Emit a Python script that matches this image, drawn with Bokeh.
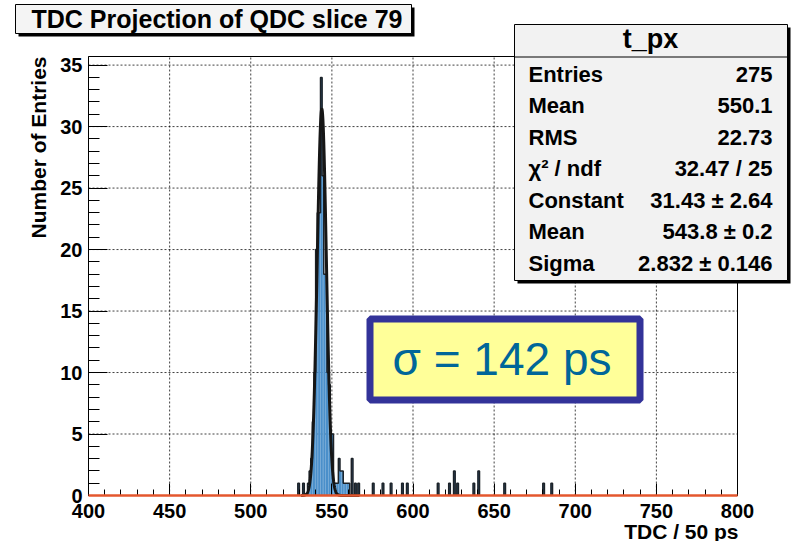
import numpy as np
from bokeh.plotting import figure
from bokeh.models import Label, BoxAnnotation, SingleIntervalTicker, Range1d
from bokeh.embed import file_html
from bokeh.resources import INLINE

# ---- data -----------------------------------------------------------------
# TDC histogram, one channel per bin: lower channel edge and entries
bin_low = [529, 532, 535, 536, 537, 538, 539, 540, 541, 542, 543, 544, 545, 546,
           547, 548, 549, 550, 551, 552, 553, 554, 555, 556, 557, 558, 559, 560,
           562, 564, 566, 575, 581, 586, 593, 596, 615, 622, 625, 627, 637, 640,
           656, 680, 685]
counts = [1, 1, 1, 2, 3, 6, 10, 20, 23, 23, 34, 26, 18, 18,
          10, 9, 5, 5, 1, 1, 1, 3, 2, 2, 1, 1, 1, 1,
          3, 1, 1, 1, 1, 1, 1, 1, 1, 1, 2, 1, 1, 2,
          1, 1, 1]

# Gaussian fit result
fit_const, fit_const_err = 31.43, 2.64
fit_mean, fit_mean_err = 543.8, 0.2
fit_sigma, fit_sigma_err = 2.832, 0.146
fit_lo, fit_hi = 531.0, 567.0
tdc_ps_per_channel = 50

stat_names = ["Entries", "Mean", "RMS", "\u03c7\u00b2 / ndf", "Constant", "Mean", "Sigma"]
stat_values = ["275", "550.1", "22.73", "32.47 / 25",
               f"{fit_const:.2f} \u00b1 {fit_const_err:.2f}",
               f"{fit_mean:.1f} \u00b1 {fit_mean_err:.1f}",
               f"{fit_sigma:.3f} \u00b1 {fit_sigma_err:.3f}"]

x_ticks = list(range(400, 801, 50))
y_ticks = list(range(0, 36, 5))
y_max = 35.7

# ---- layout (pixels) ------------------------------------------------------
W, H = 792, 541
FL, FR, FT, FB = 88, 737, 56, 495          # histogram frame on the canvas
FONT = "Liberation Sans"
BLUE = "#4a8fca"

x0, x1 = x_ticks[0], x_ticks[-1]
kx = (FR - FL) / (x1 - x0)
ky = (FB - FT) / y_max

# the plotting area spans the whole canvas; axes sit on the histogram frame
p = figure(width=W, height=H, output_backend="svg", toolbar_location=None,
           x_range=Range1d(x0 - FL / kx, x1 + (W - FR) / kx),
           y_range=Range1d(-(H - FB) / ky, y_max + FT / ky),
           min_border=0)
p.title.visible = False
p.background_fill_color = "white"
p.border_fill_color = "white"
p.outline_line_color = None
p.xgrid.visible = False
p.ygrid.visible = False

p.xaxis.fixed_location = 0
p.xaxis.bounds = (x0, x1)
p.yaxis.fixed_location = x0
p.yaxis.bounds = (0, y_max)

for ax, step in ((p.xaxis[0], 50), (p.yaxis[0], 5)):
    ax.ticker = SingleIntervalTicker(interval=step, num_minor_ticks=5)
    ax.axis_line_color = "black"
    ax.major_tick_out = 0
    ax.minor_tick_out = 0
    ax.major_tick_line_color = "black"
    ax.minor_tick_line_color = "black"
    ax.major_label_text_font = FONT
    ax.major_label_text_font_style = "bold"
    ax.major_label_text_font_size = "20px"
    ax.major_label_text_color = "black"

p.xaxis.major_tick_in = 12
p.xaxis.minor_tick_in = 6
p.xaxis.major_label_standoff = 8
p.yaxis.major_tick_in = 19
p.yaxis.minor_tick_in = 11
p.yaxis.major_label_standoff = 6

# dotted grid inside the frame
gx = x_ticks[1:-1]
p.segment(x0=gx, x1=gx, y0=[0] * len(gx), y1=[y_max] * len(gx),
          line_color="black", line_dash="2 2", line_alpha=0.75, line_width=1)
gy = y_ticks[1:]
p.segment(x0=[x0] * len(gy), x1=[x1] * len(gy), y0=gy, y1=gy,
          line_color="black", line_dash="2 2", line_alpha=0.75, line_width=1)

# histogram bars
low = np.array(bin_low, dtype=float)
cnt = np.array(counts, dtype=float)
p.quad(left=low, right=low + 1, bottom=0, top=cnt,
       fill_color=BLUE, line_color=None)

# outline of each run of adjacent filled bins
xs_runs, ys_runs = [], []
i = 0
while i < len(low):
    j = i
    while j + 1 < len(low) and low[j + 1] == low[j] + 1:
        j += 1
    xs = [low[i]]
    ys = [0.0]
    for k in range(i, j + 1):
        xs += [low[k], low[k] + 1]
        ys += [cnt[k], cnt[k]]
    xs.append(low[j] + 1)
    ys.append(0.0)
    xs_runs.append(xs)
    ys_runs.append(ys)
    i = j + 1
p.multi_line(xs_runs, ys_runs, line_color="#1c2228", line_width=1.5)

# gaussian fit curve
xf = np.linspace(fit_lo, fit_hi, 600)
yf = fit_const * np.exp(-0.5 * ((xf - fit_mean) / fit_sigma) ** 2)
p.line(xf, yf, line_color="#161616", line_width=3)

# frame border
p.add_layout(BoxAnnotation(left=x0, right=x1, bottom=0, top=y_max,
                           fill_alpha=0, line_color="black", line_width=1, line_alpha=1))

# baseline function, drawn over the frame edge
base = p.line([x0, x1], [0, 0], line_color="#e4572e", line_width=2.5)
base.level = "overlay"

# ---- annotations (canvas pixels from the top-left corner) ------------------


def sx(px):
    return px


def sy(py):
    return H - py


def box(l, t, r, b, fill, line=None, lw=1):
    return BoxAnnotation(left=sx(l), right=sx(r), top=sy(t), bottom=sy(b),
                         left_units="screen", right_units="screen",
                         top_units="screen", bottom_units="screen",
                         fill_color=fill, fill_alpha=1.0,
                         line_color=line, line_width=lw, line_alpha=1.0 if line else 0.0)


def text(px, py, s, size, align="left", bold=True, color="black", angle=0.0):
    return Label(x=sx(px), y=sy(py), x_units="screen", y_units="screen", text=s,
                 text_font=FONT, text_font_size=f"{size}px",
                 text_font_style="bold" if bold else "normal",
                 text_color=color, text_align=align, text_baseline="middle",
                 angle=angle)


# title box
p.add_layout(box(18, 7, 414, 36, "black"))
p.add_layout(box(15, 4, 411, 33, "#f4f4f4", "black", 1))
p.add_layout(text(216.5, 18.3, "TDC Projection of QDC slice 79", 25, align="center"))

# statistics box
p.add_layout(box(517, 27, 790, 283, "black"))
p.add_layout(box(514, 24, 787, 280, "#f2f2f2", "black", 1))
p.add_layout(box(514, 56, 787, 57, "black"))
p.add_layout(text(650, 38.6, "t_px", 27, align="center"))
for n, (name, val) in enumerate(zip(stat_names, stat_values)):
    mid = 73.8 + n * 31.5
    p.add_layout(text(528, mid, name, 22))
    p.add_layout(text(772, mid, val, 22, align="right"))

# resolution box
p.add_layout(box(369.5, 318.5, 639.5, 399.5, "#ffff99", "#333399", 7))
p.add_layout(text(501.5, 358.3, f"\u03c3 = {fit_sigma * tdc_ps_per_channel:.0f} ps", 46,
                  align="center", bold=False, color="#006699"))

# axis titles
p.add_layout(text(37.5, 56, "Number of Entries", 21, align="right", angle=np.pi / 2))
p.add_layout(text(738, 530.5, "TDC / 50 ps", 21, align="right"))

open("out.html", "w").write(file_html(p, INLINE))
